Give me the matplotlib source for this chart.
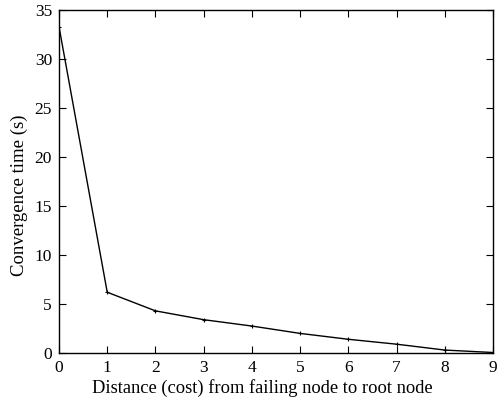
import numpy as np
import matplotlib
matplotlib.use("Agg")
import matplotlib.pyplot as plt

# Data
distance = [0, 1, 2, 3, 4, 5, 6, 7, 8, 9]
conv_time = [33.3, 6.2, 4.3, 3.4, 2.75, 2.0, 1.4, 0.9, 0.3, 0.05]
x_ticks = list(range(0, 10))
y_ticks = [0, 5, 10, 15, 20, 25, 30, 35]

plt.rcParams['font.family'] = ['Liberation Serif', 'DejaVu Serif']

fig = plt.figure(figsize=(4.97, 3.98), dpi=100)
ax = fig.add_axes([59 / 497, 1 - 353 / 398, (493 - 59) / 497, (353 - 10) / 398])

ax.plot(distance, conv_time, "-", color="black", lw=1.0,
        marker="+", markersize=3, markeredgewidth=0.8)

ax.set_xlim(0, 9)
ax.set_ylim(0, 35)
ax.set_xticks(x_ticks)
ax.set_yticks(y_ticks)
ax.tick_params(direction="in", top=True, right=True, length=5, width=0.8,
               labelsize=12.5, pad=5)
for s in ax.spines.values():
    s.set_linewidth(1.0)

# gnuplot-style labels sit a little off the axes centre
ax.set_xlabel("Distance (cost) from failing node to root node", fontsize=13.3, labelpad=2)
ax.xaxis.set_label_coords(0.468, -0.075)
ax.set_ylabel("Convergence time (s)", fontsize=13.5, labelpad=5)
ax.yaxis.set_label_coords(-0.072, 0.46)

fig.savefig("out.png", dpi=100)
